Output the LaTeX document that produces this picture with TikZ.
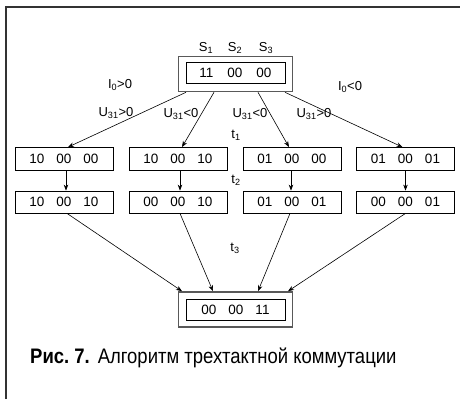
\documentclass[tikz,border=0pt]{standalone}
\usepackage{fontspec}
\setmainfont{Liberation Sans}
\usetikzlibrary{arrows.meta,calc}
\newcommand\gp{\hspace{12pt}}
\begin{document}
\begin{tikzpicture}[x=1pt,y=-1pt,
  box/.style={draw,line width=0.8pt,minimum width=98pt,minimum height=23pt,inner sep=0pt,font=\fontsize{13.5}{13.5}\selectfont},
  outerbox/.style={draw=black!65,line width=1.6pt,minimum width=114pt,minimum height=35pt,inner sep=0pt},
  innerbox/.style={draw,line width=0.8pt,minimum width=99pt,minimum height=21pt,inner sep=0pt,font=\fontsize{13.5}{13.5}\selectfont},
  arr/.style={-{Stealth[length=6pt,width=4.5pt]},line width=0.6pt},
  lbl/.style={font=\fontsize{13}{13}\selectfont,inner sep=0pt}]
\useasboundingbox (0,0) rectangle (460,399);
\draw[line width=1.5pt,black!80] (6,399) -- (6,7) -- (460,7);
% top
\node[outerbox] (topo) at (235.5,74) {};
\node[innerbox] (top) at (235.5,72.5) {11\hspace{14pt}00\hspace{14pt}00};
\node[lbl] (s1) at (206,48) {S\textsubscript{1}};
\node[lbl] (s2) at (235,48) {S\textsubscript{2}};
\node[lbl] (s3) at (266,48) {S\textsubscript{3}};
% row 1
\node[box] (a1) at (64,159) {10\gp 00\gp 00};
\node[box] (b1) at (178,159) {10\gp 00\gp 10};
\node[box] (c1) at (292,159) {01\gp 00\gp 00};
\node[box] (d1) at (405.5,159) {01\gp 00\gp 01};
% row 2
\node[box,minimum height=22pt] (a2) at (64,202) {10\gp 00\gp 10};
\node[box,minimum height=22pt] (b2) at (178,202) {00\gp 00\gp 10};
\node[box,minimum height=22pt] (c2) at (292,202) {01\gp 00\gp 01};
\node[box,minimum height=22pt] (d2) at (405.5,202) {00\gp 00\gp 01};
% bottom
\node[outerbox] (boto) at (235.5,309.5) {};
\node[innerbox] (bot) at (235.5,309.5) {00\gp 00\gp 11};
% labels
\node[lbl] (i0p) at (120,85) {I\textsubscript{0}>0};
\node[lbl] (i0n) at (350,87) {I\textsubscript{0}<0};
\node[lbl] (u1) at (116,113) {U\textsubscript{31}>0};
\node[lbl] (u2) at (181,114) {U\textsubscript{31}<0};
\node[lbl] (u3) at (250,114) {U\textsubscript{31}<0};
\node[lbl] (u4) at (314,114) {U\textsubscript{31}>0};
\node[lbl] (t1) at (236,135) {t\textsubscript{1}};
\node[lbl] (t2) at (236,180) {t\textsubscript{2}};
\node[lbl] (t3) at (235,248) {t\textsubscript{3}};
% arrows from top
\draw[arr] ($(topo.south)+(-49.5,0)$) -- ($(a1.north)+(4,0)$);
\draw[arr] ($(topo.south)+(-21.5,0)$) -- ($(b1.north)+(4,0)$);
\draw[arr] ($(topo.south)+(22.5,0)$) -- ($(c1.north)+(-3,0)$);
\draw[arr] ($(topo.south)+(49.5,0)$) -- ($(d1.north)+(-3,0)$);
% vertical
\draw[arr] ($(a1.south)+(2,0)$) -- ($(a2.north)+(2,0)$);
\draw[arr] ($(b1.south)+(2,0)$) -- ($(b2.north)+(2,0)$);
\draw[arr] ($(c1.south)+(-1,0)$) -- ($(c2.north)+(-1,0)$);
\draw[arr] (d1.south) -- (d2.north);
% to bottom
\draw[arr] ($(a2.south)+(3,0)$) -- ($(boto.north)+(-53.5,0)$);
\draw[arr] ($(b2.south)+(2,0)$) -- ($(boto.north)+(-22.5,0)$);
\draw[arr] ($(c2.south)+(-2,0)$) -- ($(boto.north)+(22.5,0)$);
\draw[arr] (d2.south) -- ($(boto.north)+(52.5,0)$);
% caption
\node[anchor=base west,inner sep=0pt,font=\fontsize{21}{22}\selectfont] (cap) at (30,363)
  {\scalebox{0.88}[1]{\textbf{Рис.\ 7.}\hspace{9pt}Алгоритм трехтактной коммутации}};
\end{tikzpicture}
\end{document}
